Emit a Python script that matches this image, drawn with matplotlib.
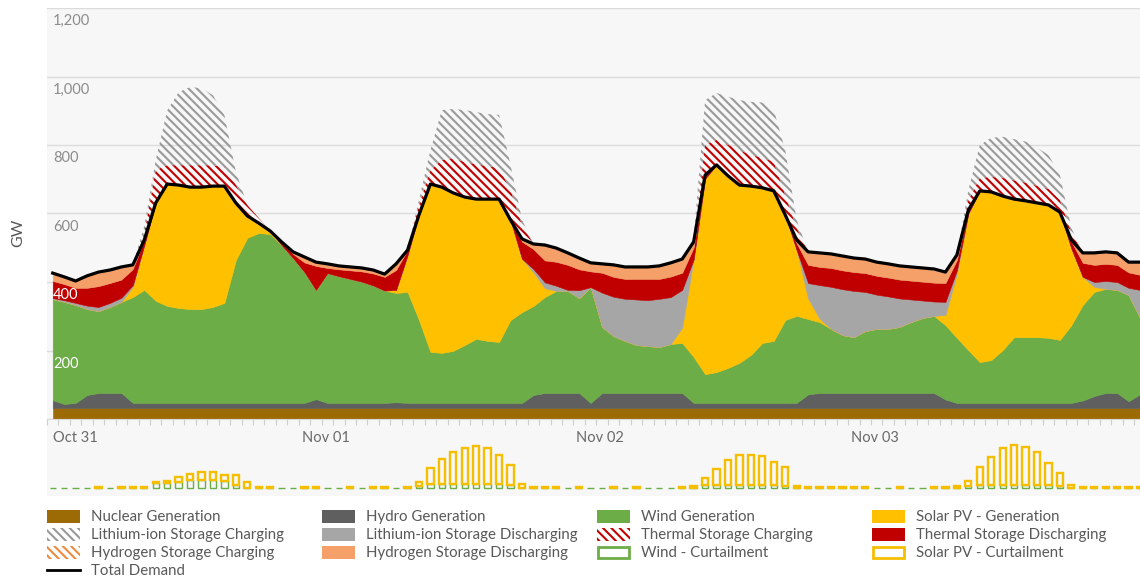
import numpy as np
import matplotlib
matplotlib.use('Agg')
import matplotlib.pyplot as plt
from matplotlib.patches import Rectangle
from matplotlib.lines import Line2D

plt.rcParams['font.family'] = ['Lato', 'DejaVu Sans']
plt.rcParams['hatch.linewidth'] = 1.5

# hourly dispatch, Oct 31 - Nov 03 (GW)
hours = np.arange(96)

nuclear = [32, 32, 32, 32, 32, 32, 32, 32, 32, 32, 32, 32,
           32, 32, 32, 32, 32, 32, 32, 32, 32, 32, 32, 32,
           32, 32, 32, 32, 32, 32, 32, 32, 32, 32, 32, 32,
           32, 32, 32, 32, 32, 32, 32, 32, 32, 32, 32, 32,
           32, 32, 32, 32, 32, 32, 32, 32, 32, 32, 32, 32,
           32, 32, 32, 32, 32, 32, 32, 32, 32, 32, 32, 32,
           32, 32, 32, 32, 32, 32, 32, 32, 32, 32, 32, 32,
           32, 32, 32, 32, 32, 32, 32, 32, 32, 32, 32, 32]

hydro = [23, 12, 15, 38, 44, 44, 44, 15, 15, 15, 15, 15,
         15, 15, 15, 15, 15, 15, 15, 15, 15, 15, 15, 26,
         15, 15, 15, 15, 15, 15, 17, 15, 15, 15, 15, 15,
         15, 15, 15, 15, 15, 15, 38, 44, 44, 44, 44, 15,
         44, 44, 44, 44, 44, 44, 44, 44, 15, 15, 15, 15,
         15, 15, 15, 15, 15, 15, 40, 44, 44, 44, 44, 44,
         44, 44, 44, 44, 44, 44, 25, 15, 15, 15, 15, 15,
         15, 15, 15, 15, 15, 15, 22, 35, 44, 44, 20, 40]

wind = [295, 298, 286, 251, 239, 251, 266, 309, 330, 298, 283, 277,
        274, 274, 280, 292, 417, 482, 496, 493, 461, 423, 382, 319,
        379, 370, 362, 354, 343, 328, 319, 324, 242, 149, 146, 152,
        169, 187, 181, 178, 242, 265, 260, 280, 298, 298, 277, 338,
        193, 166, 152, 140, 137, 134, 143, 146, 134, 84, 90, 102,
        117, 140, 175, 181, 242, 254, 220, 207, 187, 169, 163, 181,
        187, 187, 193, 207, 219, 225, 217, 190, 154, 119, 125, 154,
        192, 192, 192, 190, 184, 227, 279, 304, 304, 301, 310, 223]

solar = [0, 0, 0, 0, 0, 0, 0, 30, 131, 286, 356, 359,
         356, 356, 353, 341, 167, 64, 29, 9, 0, 0, 0, 0,
         0, 0, 0, 0, 0, 0, 9, 107, 307, 490, 484, 461,
         432, 408, 414, 417, 292, 156, 98, 26, 0, 0, 0, 0,
         0, 0, 0, 0, 0, 0, 0, 45, 285, 571, 605, 561,
         519, 493, 453, 438, 307, 192, 60, 10, 0, 0, 0, 0,
         0, 0, 0, 0, 0, 0, 30, 187, 399, 500, 491, 450,
         403, 398, 392, 388, 373, 224, 82, 15, 0, 0, 0, 0]

li_dis = [3, 5, 6, 10, 12, 12, 12, 5, 0, 0, 0, 0,
          0, 0, 0, 0, 0, 0, 0, 0, 0, 0, 0, 0,
          0, 0, 0, 0, 0, 0, 0, 0, 0, 0, 0, 0,
          0, 0, 0, 0, 0, 0, 10, 17, 15, 3, 23, 0,
          100, 115, 123, 133, 134, 141, 137, 110, 0, 0, 0, 0,
          0, 0, 0, 0, 0, 0, 45, 98, 123, 134, 135, 114,
          100, 95, 83, 66, 51, 42, 38, 10, 0, 0, 0, 0,
          0, 0, 0, 0, 0, 0, 0, 14, 23, 23, 21, 82]

th_dis = [50, 47, 44, 52, 61, 58, 53, 47, 15, 0, 0, 0,
          0, 0, 0, 0, 0, 0, 0, 0, 9, 12, 28, 70,
          15, 20, 25, 30, 35, 40, 58, 15, 0, 0, 0, 0,
          0, 0, 0, 0, 0, 50, 58, 64, 70, 73, 61, 46,
          58, 58, 58, 60, 62, 58, 60, 50, 35, 10, 0, 0,
          0, 0, 0, 0, 0, 20, 53, 53, 55, 55, 55, 55,
          55, 55, 55, 55, 55, 55, 55, 30, 10, 0, 0, 0,
          0, 0, 0, 0, 0, 20, 41, 50, 50, 50, 45, 44]

h2_dis = [23, 23, 20, 35, 41, 38, 38, 12, 0, 0, 0, 0,
          0, 0, 0, 0, 0, 0, 0, 0, 0, 6, 16, 11,
          12, 10, 10, 10, 10, 8, 18, 0, 0, 0, 0, 0,
          0, 0, 0, 0, 0, 8, 15, 44, 40, 35, 33, 25,
          26, 35, 35, 35, 35, 38, 40, 41, 16, 0, 0, 0,
          0, 0, 0, 0, 0, 10, 38, 41, 41, 41, 41, 41,
          40, 40, 40, 40, 40, 40, 32, 15, 0, 0, 0, 0,
          0, 0, 0, 0, 0, 5, 29, 35, 35, 35, 30, 38]

demand = [426, 415, 403, 418, 429, 435, 444, 450, 523, 631, 686, 683,
          677, 677, 680, 680, 631, 593, 572, 549, 517, 488, 473, 458,
          453, 447, 444, 441, 435, 423, 453, 493, 596, 686, 677, 660,
          648, 642, 642, 642, 581, 526, 511, 508, 499, 485, 470, 456,
          453, 450, 444, 444, 444, 447, 456, 467, 517, 712, 742, 710,
          683, 680, 675, 666, 596, 523, 488, 485, 482, 476, 470, 467,
          458, 453, 447, 444, 441, 438, 429, 479, 610, 666, 663, 651,
          642, 637, 631, 625, 604, 523, 485, 485, 488, 485, 458, 458]

# storage charging, stacked above demand
th_chg = [0, 0, 0, 0, 0, 0, 0, 0, 20, 96, 55, 58,
          64, 64, 61, 55, 53, 32, 15, 0, 0, 0, 0, 0,
          0, 0, 0, 0, 0, 0, 0, 0, 29, 41, 79, 102,
          102, 102, 96, 91, 88, 41, 0, 0, 0, 0, 0, 0,
          0, 0, 0, 0, 0, 0, 0, 0, 5, 88, 73, 91,
          102, 91, 88, 85, 58, 35, 0, 0, 0, 0, 0, 0,
          0, 0, 0, 0, 0, 0, 0, 0, 29, 38, 44, 53,
          55, 53, 50, 47, 35, 23, 0, 0, 0, 0, 0, 0]

li_chg = [0, 0, 0, 0, 0, 0, 0, 0, 20, 29, 160, 213,
          228, 225, 204, 152, 38, 0, 0, 0, 0, 0, 0, 0,
          0, 0, 0, 0, 0, 0, 0, 0, 15, 58, 146, 143,
          152, 152, 152, 155, 73, 15, 0, 0, 0, 0, 0, 0,
          0, 0, 0, 0, 0, 0, 0, 0, 5, 131, 137, 140,
          146, 155, 161, 152, 131, 23, 0, 0, 0, 0, 0, 0,
          0, 0, 0, 0, 0, 0, 0, 0, 29, 96, 114, 120,
          120, 120, 111, 99, 73, 12, 0, 0, 0, 0, 0, 0]

# curtailment (GW)
wind_curt = [0, 0, 0, 0, 0, 0, 0, 0, 0, 4.3, 4.3, 5.3,
             7.7, 7.7, 7.7, 6.7, 2.7, 0, 0, 0, 0, 0, 0, 0,
             0, 0, 0, 0, 0, 0, 0, 0, 1.7, 3.3, 3.3, 3.3,
             3.3, 4.0, 3.3, 3.3, 2.7, 0, 0, 0, 0, 0, 0, 0,
             0, 0, 0, 0, 0, 0, 0, 0, 0, 2.7, 2.7, 2.7,
             2.7, 2.7, 2.7, 2.7, 1.7, 0, 0, 0, 0, 0, 0, 0,
             0, 0, 0, 0, 0, 0, 0, 0, 1.7, 2.7, 2.7, 2.7,
             2.7, 2.7, 2.7, 2.7, 2.0, 0, 0, 0, 0, 0, 0, 0]

solar_curt = [0, 0, 0, 0, 0.5, 0, 0.5, 0.5, 0.5, 1.0, 2.3, 5.0,
              5.7, 7.7, 7.7, 6.0, 10.0, 5.3, 1.0, 0.7, 0, 0, 0.5, 0.5,
              0, 0, 0.5, 0, 0.5, 0.5, 0, 0.5, 3.7, 16.0, 25.0, 32.7,
              36.7, 37.3, 36.0, 29.3, 20.0, 3.7, 0.5, 0.5, 0.5, 0, 0.5, 0,
              0, 0.5, 0, 0.5, 0, 0, 0, 0.5, 1.7, 6.7, 15.7, 25.0,
              30.0, 30.0, 29.0, 23.3, 19.3, 1.3, 0.5, 0.5, 0.5, 0.5, 0.5, 0.5,
              0, 0, 0.5, 0, 0, 0.5, 0.5, 1.3, 5.0, 17.7, 27.7, 36.7,
              40.0, 38.0, 33.3, 21.7, 12.3, 2.7, 0.5, 0.5, 0.5, 0.5, 0.5, 0.5]

day_labels = ['Oct 31', 'Nov 01', 'Nov 02', 'Nov 03']
day_pos = [0, 21.75, 45.75, 69.75]
y_levels = [200, 400, 600, 800, 1000, 1200]

# colours
c_nuc = '#9c6b05'
c_hyd = '#5f5f5f'
c_wind = '#6cad47'
c_solar = '#ffc000'
c_li = '#a6a6a6'
c_th = '#c00000'
c_h2 = '#f4a068'
c_bg = '#f7f7f7'
c_txt = '#595959'
HATCH = '\\' * 4

W, H = 1140, 577
fig = plt.figure(figsize=(W / 100, H / 100), dpi=100)

# light background behind both panels
fig.patches.append(Rectangle((47 / W, 1 - 496 / H), 1 - 47 / W, (496 - 8) / H,
                             transform=fig.transFigure, facecolor=c_bg,
                             edgecolor='none', zorder=-5))

ax = fig.add_axes([47 / W, 1 - 419 / H, 1 - 47 / W, (419 - 8) / H])
ax.set_facecolor('none')

layers = [nuclear, hydro, wind, solar, li_dis, th_dis, h2_dis]
cols = [c_nuc, c_hyd, c_wind, c_solar, c_li, c_th, c_h2]
polys = ax.stackplot(hours, *layers, colors=cols, lw=0, zorder=2)
for p, c in zip(polys, cols):
    p.set_edgecolor(c)
    p.set_linewidth(0.4)

top_th = np.array(demand) + np.array(th_chg)
ax.fill_between(hours, demand, top_th, facecolor='none', edgecolor=c_th,
                hatch=HATCH, linewidth=0, zorder=3)
ax.fill_between(hours, top_th, top_th + np.array(li_chg), facecolor='none',
                edgecolor='#9a9a9a', hatch=HATCH, linewidth=0, zorder=3)

ax.plot(hours, demand, color='black', lw=2.3, zorder=5, solid_joinstyle='round')

ax.set_xlim(-0.5, 95.0)
ax.set_ylim(0, 1200)
ax.set_yticks([0] + y_levels)
ax.yaxis.grid(True, color='#dcdcdc', lw=1)
ax.set_axisbelow(True)
ax.tick_params(axis='y', length=0, labelleft=False)
ax.set_xticks(np.arange(-0.5, 95.5, 1))
ax.tick_params(axis='x', length=4, width=0.8, color='#cfcfcf', labelbottom=False)
for s in ['top', 'left', 'right']:
    ax.spines[s].set_visible(False)
ax.spines['bottom'].set_color('#d9d9d9')
ax.spines['bottom'].set_linewidth(0.8)

ytr = ax.get_yaxis_transform()
for v in y_levels:
    col = 'white' if v <= 400 else '#8c8c8c'
    ax.text(0.0055, v - 18, '{:,}'.format(v), transform=ytr, ha='left', va='top',
            fontsize=10.5, color=col, zorder=6)

fig.text(18 / W, 1 - 233 / H, 'GW', rotation=90, ha='center', va='center',
         fontsize=11.5, color=c_txt)

# curtailment panel
axc = fig.add_axes([47 / W, 1 - 496 / H, 1 - 47 / W, (496 - 419) / H], sharex=ax)
axc.set_facecolor('none')
axc.set_ylim(-8.3, 68.7)
axc.axis('off')
hc = np.array(hours)
wc = np.array(wind_curt)
sc = np.array(solar_curt)
axc.bar(hc, wc, width=0.55, facecolor=c_bg, edgecolor=c_wind, lw=1.0, zorder=2)
m = sc > 0
axc.bar(hc[m], sc[m], bottom=wc[m], width=0.55, facecolor=c_bg,
        edgecolor='#f5bf00', lw=1.7, zorder=3)

xtr = axc.get_xaxis_transform()
for lab, p in zip(day_labels, day_pos):
    axc.text(p, 1 - 19 / 77, lab, transform=xtr, ha='left', va='center',
             fontsize=10.5, color='#6a6a6a')

# legend, drawn in pixel space
lg = fig.add_axes([0, 0, 1, 1])
lg.set_xlim(0, W)
lg.set_ylim(H, 0)
lg.axis('off')

entries = [
    ('Nuclear Generation', 'solid', c_nuc), ('Hydro Generation', 'solid', c_hyd),
    ('Wind Generation', 'solid', c_wind), ('Solar PV - Generation', 'solid', c_solar),
    ('Lithium-ion Storage Charging', 'hatch', '#9a9a9a'), ('Lithium-ion Storage Discharging', 'solid', c_li),
    ('Thermal Storage Charging', 'hatch', c_th), ('Thermal Storage Discharging', 'solid', c_th),
    ('Hydrogen Storage Charging', 'hatch', '#ee8a40'), ('Hydrogen Storage Discharging', 'solid', c_h2),
    ('Wind - Curtailment', 'hollow', c_wind), ('Solar PV - Curtailment', 'hollow', '#f5bf00'),
    ('Total Demand', 'line', 'black'),
]
for k, (lab, kind, col) in enumerate(entries):
    r, c = divmod(k, 4)
    x0 = 47 + 275 * c
    yc = 516 + 18 * r
    if kind == 'solid':
        lg.add_patch(Rectangle((x0, yc - 6.5), 33, 13, facecolor=col, edgecolor='none'))
    elif kind == 'hatch':
        lg.add_patch(Rectangle((x0, yc - 6.5), 33, 13, fill=False, hatch=HATCH,
                               edgecolor=col, lw=0))
    elif kind == 'hollow':
        lg.add_patch(Rectangle((x0 + 1, yc - 5.5), 31, 11, facecolor='white',
                               edgecolor=col, lw=2))
    else:
        lg.add_line(Line2D([x0, x0 + 33], [yc, yc], color=col, lw=2))
    lg.text(x0 + 44, yc + 1, lab, ha='left', va='center', fontsize=10.8, color=c_txt)

fig.savefig('out.png', dpi=100)
